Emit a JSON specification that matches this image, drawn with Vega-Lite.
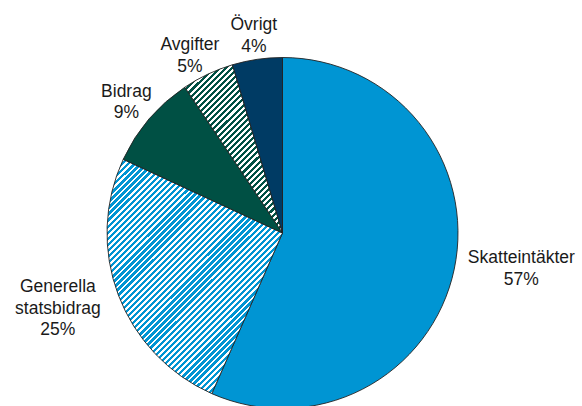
{
  "$schema": "https://vega.github.io/schema/vega-lite/v6.json",
  "autosize": {"type": "none"},
  "width": 351,
  "height": 351,
  "padding": {"left": 107, "top": 57.5, "right": 124, "bottom": 0},
  "background": "#ffffff",
  "config": {"view": {"stroke": null}},
  "data": {"values": [
    {"cat": "Skatteintäkter", "value": 56.6, "ord": 1, "label": "Skatteintäkter\n57%"},
    {"cat": "Generella statsbidrag", "value": 25.3, "ord": 2, "label": "Generella\nstatsbidrag\n25%"},
    {"cat": "Bidrag", "value": 8.7, "ord": 3, "label": "Bidrag\n9%"},
    {"cat": "Avgifter", "value": 4.8, "ord": 4, "label": "Avgifter\n5%"},
    {"cat": "Övrigt", "value": 4.6, "ord": 5, "label": "Övrigt\n4%"}
  ]},
  "encoding": {
    "theta": {"field": "value", "type": "quantitative", "stack": true},
    "order": {"field": "ord", "type": "quantitative"}
  },
  "layer": [
    {
      "mark": {"type": "arc", "stroke": "#222222", "strokeWidth": 0.9},
      "encoding": {
        "fill": {
          "condition": [
            {"test": "datum.cat === 'Generella statsbidrag'", "value": {"gradient": "linear", "x1": 0, "y1": 0, "x2": 0.9934, "y2": 1.329, "stops": [
{"offset":0,"color":"#0095d3"},{"offset":0.0069,"color":"#0095d3"},{"offset":0.0069,"color":"#fff"},{"offset":0.0125,"color":"#fff"},
{"offset":0.0125,"color":"#0095d3"},{"offset":0.0194,"color":"#0095d3"},{"offset":0.0194,"color":"#fff"},{"offset":0.025,"color":"#fff"},
{"offset":0.025,"color":"#0095d3"},{"offset":0.0319,"color":"#0095d3"},{"offset":0.0319,"color":"#fff"},{"offset":0.0375,"color":"#fff"},
{"offset":0.0375,"color":"#0095d3"},{"offset":0.0444,"color":"#0095d3"},{"offset":0.0444,"color":"#fff"},{"offset":0.05,"color":"#fff"},
{"offset":0.05,"color":"#0095d3"},{"offset":0.0569,"color":"#0095d3"},{"offset":0.0569,"color":"#fff"},{"offset":0.0625,"color":"#fff"},
{"offset":0.0625,"color":"#0095d3"},{"offset":0.0694,"color":"#0095d3"},{"offset":0.0694,"color":"#fff"},{"offset":0.075,"color":"#fff"},
{"offset":0.075,"color":"#0095d3"},{"offset":0.0819,"color":"#0095d3"},{"offset":0.0819,"color":"#fff"},{"offset":0.0875,"color":"#fff"},
{"offset":0.0875,"color":"#0095d3"},{"offset":0.0944,"color":"#0095d3"},{"offset":0.0944,"color":"#fff"},{"offset":0.1,"color":"#fff"},
{"offset":0.1,"color":"#0095d3"},{"offset":0.1069,"color":"#0095d3"},{"offset":0.1069,"color":"#fff"},{"offset":0.1125,"color":"#fff"},
{"offset":0.1125,"color":"#0095d3"},{"offset":0.1194,"color":"#0095d3"},{"offset":0.1194,"color":"#fff"},{"offset":0.125,"color":"#fff"},
{"offset":0.125,"color":"#0095d3"},{"offset":0.1319,"color":"#0095d3"},{"offset":0.1319,"color":"#fff"},{"offset":0.1375,"color":"#fff"},
{"offset":0.1375,"color":"#0095d3"},{"offset":0.1444,"color":"#0095d3"},{"offset":0.1444,"color":"#fff"},{"offset":0.15,"color":"#fff"},
{"offset":0.15,"color":"#0095d3"},{"offset":0.1569,"color":"#0095d3"},{"offset":0.1569,"color":"#fff"},{"offset":0.1625,"color":"#fff"},
{"offset":0.1625,"color":"#0095d3"},{"offset":0.1694,"color":"#0095d3"},{"offset":0.1694,"color":"#fff"},{"offset":0.175,"color":"#fff"},
{"offset":0.175,"color":"#0095d3"},{"offset":0.1819,"color":"#0095d3"},{"offset":0.1819,"color":"#fff"},{"offset":0.1875,"color":"#fff"},
{"offset":0.1875,"color":"#0095d3"},{"offset":0.1944,"color":"#0095d3"},{"offset":0.1944,"color":"#fff"},{"offset":0.2,"color":"#fff"},
{"offset":0.2,"color":"#0095d3"},{"offset":0.2069,"color":"#0095d3"},{"offset":0.2069,"color":"#fff"},{"offset":0.2125,"color":"#fff"},
{"offset":0.2125,"color":"#0095d3"},{"offset":0.2194,"color":"#0095d3"},{"offset":0.2194,"color":"#fff"},{"offset":0.225,"color":"#fff"},
{"offset":0.225,"color":"#0095d3"},{"offset":0.2319,"color":"#0095d3"},{"offset":0.2319,"color":"#fff"},{"offset":0.2375,"color":"#fff"},
{"offset":0.2375,"color":"#0095d3"},{"offset":0.2444,"color":"#0095d3"},{"offset":0.2444,"color":"#fff"},{"offset":0.25,"color":"#fff"},
{"offset":0.25,"color":"#0095d3"},{"offset":0.2569,"color":"#0095d3"},{"offset":0.2569,"color":"#fff"},{"offset":0.2625,"color":"#fff"},
{"offset":0.2625,"color":"#0095d3"},{"offset":0.2694,"color":"#0095d3"},{"offset":0.2694,"color":"#fff"},{"offset":0.275,"color":"#fff"},
{"offset":0.275,"color":"#0095d3"},{"offset":0.2819,"color":"#0095d3"},{"offset":0.2819,"color":"#fff"},{"offset":0.2875,"color":"#fff"},
{"offset":0.2875,"color":"#0095d3"},{"offset":0.2944,"color":"#0095d3"},{"offset":0.2944,"color":"#fff"},{"offset":0.3,"color":"#fff"},
{"offset":0.3,"color":"#0095d3"},{"offset":0.3069,"color":"#0095d3"},{"offset":0.3069,"color":"#fff"},{"offset":0.3125,"color":"#fff"},
{"offset":0.3125,"color":"#0095d3"},{"offset":0.3194,"color":"#0095d3"},{"offset":0.3194,"color":"#fff"},{"offset":0.325,"color":"#fff"},
{"offset":0.325,"color":"#0095d3"},{"offset":0.3319,"color":"#0095d3"},{"offset":0.3319,"color":"#fff"},{"offset":0.3375,"color":"#fff"},
{"offset":0.3375,"color":"#0095d3"},{"offset":0.3444,"color":"#0095d3"},{"offset":0.3444,"color":"#fff"},{"offset":0.35,"color":"#fff"},
{"offset":0.35,"color":"#0095d3"},{"offset":0.3569,"color":"#0095d3"},{"offset":0.3569,"color":"#fff"},{"offset":0.3625,"color":"#fff"},
{"offset":0.3625,"color":"#0095d3"},{"offset":0.3694,"color":"#0095d3"},{"offset":0.3694,"color":"#fff"},{"offset":0.375,"color":"#fff"},
{"offset":0.375,"color":"#0095d3"},{"offset":0.3819,"color":"#0095d3"},{"offset":0.3819,"color":"#fff"},{"offset":0.3875,"color":"#fff"},
{"offset":0.3875,"color":"#0095d3"},{"offset":0.3944,"color":"#0095d3"},{"offset":0.3944,"color":"#fff"},{"offset":0.4,"color":"#fff"},
{"offset":0.4,"color":"#0095d3"},{"offset":0.4069,"color":"#0095d3"},{"offset":0.4069,"color":"#fff"},{"offset":0.4125,"color":"#fff"},
{"offset":0.4125,"color":"#0095d3"},{"offset":0.4194,"color":"#0095d3"},{"offset":0.4194,"color":"#fff"},{"offset":0.425,"color":"#fff"},
{"offset":0.425,"color":"#0095d3"},{"offset":0.4319,"color":"#0095d3"},{"offset":0.4319,"color":"#fff"},{"offset":0.4375,"color":"#fff"},
{"offset":0.4375,"color":"#0095d3"},{"offset":0.4444,"color":"#0095d3"},{"offset":0.4444,"color":"#fff"},{"offset":0.45,"color":"#fff"},
{"offset":0.45,"color":"#0095d3"},{"offset":0.4569,"color":"#0095d3"},{"offset":0.4569,"color":"#fff"},{"offset":0.4625,"color":"#fff"},
{"offset":0.4625,"color":"#0095d3"},{"offset":0.4694,"color":"#0095d3"},{"offset":0.4694,"color":"#fff"},{"offset":0.475,"color":"#fff"},
{"offset":0.475,"color":"#0095d3"},{"offset":0.4819,"color":"#0095d3"},{"offset":0.4819,"color":"#fff"},{"offset":0.4875,"color":"#fff"},
{"offset":0.4875,"color":"#0095d3"},{"offset":0.4944,"color":"#0095d3"},{"offset":0.4944,"color":"#fff"},{"offset":0.5,"color":"#fff"},
{"offset":0.5,"color":"#0095d3"},{"offset":0.5069,"color":"#0095d3"},{"offset":0.5069,"color":"#fff"},{"offset":0.5125,"color":"#fff"},
{"offset":0.5125,"color":"#0095d3"},{"offset":0.5194,"color":"#0095d3"},{"offset":0.5194,"color":"#fff"},{"offset":0.525,"color":"#fff"},
{"offset":0.525,"color":"#0095d3"},{"offset":0.5319,"color":"#0095d3"},{"offset":0.5319,"color":"#fff"},{"offset":0.5375,"color":"#fff"},
{"offset":0.5375,"color":"#0095d3"},{"offset":0.5444,"color":"#0095d3"},{"offset":0.5444,"color":"#fff"},{"offset":0.55,"color":"#fff"},
{"offset":0.55,"color":"#0095d3"},{"offset":0.5569,"color":"#0095d3"},{"offset":0.5569,"color":"#fff"},{"offset":0.5625,"color":"#fff"},
{"offset":0.5625,"color":"#0095d3"},{"offset":0.5694,"color":"#0095d3"},{"offset":0.5694,"color":"#fff"},{"offset":0.575,"color":"#fff"},
{"offset":0.575,"color":"#0095d3"},{"offset":0.5819,"color":"#0095d3"},{"offset":0.5819,"color":"#fff"},{"offset":0.5875,"color":"#fff"},
{"offset":0.5875,"color":"#0095d3"},{"offset":0.5944,"color":"#0095d3"},{"offset":0.5944,"color":"#fff"},{"offset":0.6,"color":"#fff"},
{"offset":0.6,"color":"#0095d3"},{"offset":0.6069,"color":"#0095d3"},{"offset":0.6069,"color":"#fff"},{"offset":0.6125,"color":"#fff"},
{"offset":0.6125,"color":"#0095d3"},{"offset":0.6194,"color":"#0095d3"},{"offset":0.6194,"color":"#fff"},{"offset":0.625,"color":"#fff"},
{"offset":0.625,"color":"#0095d3"},{"offset":0.6319,"color":"#0095d3"},{"offset":0.6319,"color":"#fff"},{"offset":0.6375,"color":"#fff"},
{"offset":0.6375,"color":"#0095d3"},{"offset":0.6444,"color":"#0095d3"},{"offset":0.6444,"color":"#fff"},{"offset":0.65,"color":"#fff"},
{"offset":0.65,"color":"#0095d3"},{"offset":0.6569,"color":"#0095d3"},{"offset":0.6569,"color":"#fff"},{"offset":0.6625,"color":"#fff"},
{"offset":0.6625,"color":"#0095d3"},{"offset":0.6694,"color":"#0095d3"},{"offset":0.6694,"color":"#fff"},{"offset":0.675,"color":"#fff"},
{"offset":0.675,"color":"#0095d3"},{"offset":0.6819,"color":"#0095d3"},{"offset":0.6819,"color":"#fff"},{"offset":0.6875,"color":"#fff"},
{"offset":0.6875,"color":"#0095d3"},{"offset":0.6944,"color":"#0095d3"},{"offset":0.6944,"color":"#fff"},{"offset":0.7,"color":"#fff"},
{"offset":0.7,"color":"#0095d3"},{"offset":0.7069,"color":"#0095d3"},{"offset":0.7069,"color":"#fff"},{"offset":0.7125,"color":"#fff"},
{"offset":0.7125,"color":"#0095d3"},{"offset":0.7194,"color":"#0095d3"},{"offset":0.7194,"color":"#fff"},{"offset":0.725,"color":"#fff"},
{"offset":0.725,"color":"#0095d3"},{"offset":0.7319,"color":"#0095d3"},{"offset":0.7319,"color":"#fff"},{"offset":0.7375,"color":"#fff"},
{"offset":0.7375,"color":"#0095d3"},{"offset":0.7444,"color":"#0095d3"},{"offset":0.7444,"color":"#fff"},{"offset":0.75,"color":"#fff"},
{"offset":0.75,"color":"#0095d3"},{"offset":0.7569,"color":"#0095d3"},{"offset":0.7569,"color":"#fff"},{"offset":0.7625,"color":"#fff"},
{"offset":0.7625,"color":"#0095d3"},{"offset":0.7694,"color":"#0095d3"},{"offset":0.7694,"color":"#fff"},{"offset":0.775,"color":"#fff"},
{"offset":0.775,"color":"#0095d3"},{"offset":0.7819,"color":"#0095d3"},{"offset":0.7819,"color":"#fff"},{"offset":0.7875,"color":"#fff"},
{"offset":0.7875,"color":"#0095d3"},{"offset":0.7944,"color":"#0095d3"},{"offset":0.7944,"color":"#fff"},{"offset":0.8,"color":"#fff"},
{"offset":0.8,"color":"#0095d3"},{"offset":0.8069,"color":"#0095d3"},{"offset":0.8069,"color":"#fff"},{"offset":0.8125,"color":"#fff"},
{"offset":0.8125,"color":"#0095d3"},{"offset":0.8194,"color":"#0095d3"},{"offset":0.8194,"color":"#fff"},{"offset":0.825,"color":"#fff"},
{"offset":0.825,"color":"#0095d3"},{"offset":0.8319,"color":"#0095d3"},{"offset":0.8319,"color":"#fff"},{"offset":0.8375,"color":"#fff"},
{"offset":0.8375,"color":"#0095d3"},{"offset":0.8444,"color":"#0095d3"},{"offset":0.8444,"color":"#fff"},{"offset":0.85,"color":"#fff"}
            ]}},
            {"test": "datum.cat === 'Avgifter'", "value": {"gradient": "linear", "x1": 0, "y1": 0, "x2": 1.255, "y2": 2.166, "stops": [
{"offset":0,"color":"#005044"},{"offset":0.00625,"color":"#005044"},{"offset":0.00625,"color":"#fff"},{"offset":0.0125,"color":"#fff"},
{"offset":0.0125,"color":"#005044"},{"offset":0.01875,"color":"#005044"},{"offset":0.01875,"color":"#fff"},{"offset":0.025,"color":"#fff"},
{"offset":0.025,"color":"#005044"},{"offset":0.03125,"color":"#005044"},{"offset":0.03125,"color":"#fff"},{"offset":0.0375,"color":"#fff"},
{"offset":0.0375,"color":"#005044"},{"offset":0.04375,"color":"#005044"},{"offset":0.04375,"color":"#fff"},{"offset":0.05,"color":"#fff"},
{"offset":0.05,"color":"#005044"},{"offset":0.05625,"color":"#005044"},{"offset":0.05625,"color":"#fff"},{"offset":0.0625,"color":"#fff"},
{"offset":0.0625,"color":"#005044"},{"offset":0.06875,"color":"#005044"},{"offset":0.06875,"color":"#fff"},{"offset":0.075,"color":"#fff"},
{"offset":0.075,"color":"#005044"},{"offset":0.08125,"color":"#005044"},{"offset":0.08125,"color":"#fff"},{"offset":0.0875,"color":"#fff"},
{"offset":0.0875,"color":"#005044"},{"offset":0.09375,"color":"#005044"},{"offset":0.09375,"color":"#fff"},{"offset":0.1,"color":"#fff"},
{"offset":0.1,"color":"#005044"},{"offset":0.10625,"color":"#005044"},{"offset":0.10625,"color":"#fff"},{"offset":0.1125,"color":"#fff"},
{"offset":0.1125,"color":"#005044"},{"offset":0.11875,"color":"#005044"},{"offset":0.11875,"color":"#fff"},{"offset":0.125,"color":"#fff"},
{"offset":0.125,"color":"#005044"},{"offset":0.13125,"color":"#005044"},{"offset":0.13125,"color":"#fff"},{"offset":0.1375,"color":"#fff"},
{"offset":0.1375,"color":"#005044"},{"offset":0.14375,"color":"#005044"},{"offset":0.14375,"color":"#fff"},{"offset":0.15,"color":"#fff"},
{"offset":0.15,"color":"#005044"},{"offset":0.15625,"color":"#005044"},{"offset":0.15625,"color":"#fff"},{"offset":0.1625,"color":"#fff"},
{"offset":0.1625,"color":"#005044"},{"offset":0.16875,"color":"#005044"},{"offset":0.16875,"color":"#fff"},{"offset":0.175,"color":"#fff"},
{"offset":0.175,"color":"#005044"},{"offset":0.18125,"color":"#005044"},{"offset":0.18125,"color":"#fff"},{"offset":0.1875,"color":"#fff"},
{"offset":0.1875,"color":"#005044"},{"offset":0.19375,"color":"#005044"},{"offset":0.19375,"color":"#fff"},{"offset":0.2,"color":"#fff"},
{"offset":0.2,"color":"#005044"},{"offset":0.20625,"color":"#005044"},{"offset":0.20625,"color":"#fff"},{"offset":0.2125,"color":"#fff"},
{"offset":0.2125,"color":"#005044"},{"offset":0.21875,"color":"#005044"},{"offset":0.21875,"color":"#fff"},{"offset":0.225,"color":"#fff"},
{"offset":0.225,"color":"#005044"},{"offset":0.23125,"color":"#005044"},{"offset":0.23125,"color":"#fff"},{"offset":0.2375,"color":"#fff"},
{"offset":0.2375,"color":"#005044"},{"offset":0.24375,"color":"#005044"},{"offset":0.24375,"color":"#fff"},{"offset":0.25,"color":"#fff"},
{"offset":0.25,"color":"#005044"},{"offset":0.25625,"color":"#005044"},{"offset":0.25625,"color":"#fff"},{"offset":0.2625,"color":"#fff"},
{"offset":0.2625,"color":"#005044"},{"offset":0.26875,"color":"#005044"},{"offset":0.26875,"color":"#fff"},{"offset":0.275,"color":"#fff"},
{"offset":0.275,"color":"#005044"},{"offset":0.28125,"color":"#005044"},{"offset":0.28125,"color":"#fff"},{"offset":0.2875,"color":"#fff"},
{"offset":0.2875,"color":"#005044"},{"offset":0.29375,"color":"#005044"},{"offset":0.29375,"color":"#fff"},{"offset":0.3,"color":"#fff"},
{"offset":0.3,"color":"#005044"},{"offset":0.30625,"color":"#005044"},{"offset":0.30625,"color":"#fff"},{"offset":0.3125,"color":"#fff"},
{"offset":0.3125,"color":"#005044"},{"offset":0.31875,"color":"#005044"},{"offset":0.31875,"color":"#fff"},{"offset":0.325,"color":"#fff"},
{"offset":0.325,"color":"#005044"},{"offset":0.33125,"color":"#005044"},{"offset":0.33125,"color":"#fff"},{"offset":0.3375,"color":"#fff"},
{"offset":0.3375,"color":"#005044"},{"offset":0.34375,"color":"#005044"},{"offset":0.34375,"color":"#fff"},{"offset":0.35,"color":"#fff"},
{"offset":0.35,"color":"#005044"},{"offset":0.35625,"color":"#005044"},{"offset":0.35625,"color":"#fff"},{"offset":0.3625,"color":"#fff"},
{"offset":0.3625,"color":"#005044"},{"offset":0.36875,"color":"#005044"},{"offset":0.36875,"color":"#fff"},{"offset":0.375,"color":"#fff"},
{"offset":0.375,"color":"#005044"},{"offset":0.38125,"color":"#005044"},{"offset":0.38125,"color":"#fff"},{"offset":0.3875,"color":"#fff"},
{"offset":0.3875,"color":"#005044"},{"offset":0.39375,"color":"#005044"},{"offset":0.39375,"color":"#fff"},{"offset":0.4,"color":"#fff"},
{"offset":0.4,"color":"#005044"},{"offset":0.40625,"color":"#005044"},{"offset":0.40625,"color":"#fff"},{"offset":0.4125,"color":"#fff"},
{"offset":0.4125,"color":"#005044"},{"offset":0.41875,"color":"#005044"},{"offset":0.41875,"color":"#fff"},{"offset":0.425,"color":"#fff"},
{"offset":0.425,"color":"#005044"},{"offset":0.43125,"color":"#005044"},{"offset":0.43125,"color":"#fff"},{"offset":0.4375,"color":"#fff"},
{"offset":0.4375,"color":"#005044"},{"offset":0.44375,"color":"#005044"},{"offset":0.44375,"color":"#fff"},{"offset":0.45,"color":"#fff"},
{"offset":0.45,"color":"#005044"},{"offset":0.45625,"color":"#005044"},{"offset":0.45625,"color":"#fff"},{"offset":0.4625,"color":"#fff"},
{"offset":0.4625,"color":"#005044"},{"offset":0.46875,"color":"#005044"},{"offset":0.46875,"color":"#fff"},{"offset":0.475,"color":"#fff"},
{"offset":0.475,"color":"#005044"},{"offset":0.48125,"color":"#005044"},{"offset":0.48125,"color":"#fff"},{"offset":0.4875,"color":"#fff"},
{"offset":0.4875,"color":"#005044"},{"offset":0.49375,"color":"#005044"},{"offset":0.49375,"color":"#fff"},{"offset":0.5,"color":"#fff"},
{"offset":0.5,"color":"#005044"},{"offset":0.50625,"color":"#005044"},{"offset":0.50625,"color":"#fff"},{"offset":0.5125,"color":"#fff"},
{"offset":0.5125,"color":"#005044"},{"offset":0.51875,"color":"#005044"},{"offset":0.51875,"color":"#fff"},{"offset":0.525,"color":"#fff"},
{"offset":0.525,"color":"#005044"},{"offset":0.53125,"color":"#005044"},{"offset":0.53125,"color":"#fff"},{"offset":0.5375,"color":"#fff"},
{"offset":0.5375,"color":"#005044"},{"offset":0.54375,"color":"#005044"},{"offset":0.54375,"color":"#fff"},{"offset":0.55,"color":"#fff"}
            ]}}
          ],
          "field": "cat",
          "type": "nominal",
          "scale": {
            "domain": ["Skatteintäkter", "Generella statsbidrag", "Bidrag", "Avgifter", "Övrigt"],
            "range": ["#0095d3", "#0095d3", "#005044", "#005044", "#003b64"]
          },
          "legend": null
        }
      }
    },
    {
      "mark": {"type": "text", "radius": 240, "dx": 4, "dy": -24, "font": "Liberation Sans", "fontSize": 17.5, "lineHeight": 21.5, "lineBreak": "\n", "align": "center", "baseline": "middle", "fill": "#1a1a1a"},
      "encoding": {"text": {"condition": {"test": "datum.cat === 'Skatteintäkter'", "field": "label", "type": "nominal"}, "value": ""}}
    },
    {
      "mark": {"type": "text", "radius": 238, "dx": -2, "dy": -30, "font": "Liberation Sans", "fontSize": 17.5, "lineHeight": 21.5, "lineBreak": "\n", "align": "center", "baseline": "middle", "fill": "#1a1a1a"},
      "encoding": {"text": {"condition": {"test": "datum.cat === 'Generella statsbidrag'", "field": "label", "type": "nominal"}, "value": ""}}
    },
    {
      "mark": {"type": "text", "radius": 204, "dx": -1, "dy": -9, "font": "Liberation Sans", "fontSize": 17.5, "lineHeight": 21.5, "lineBreak": "\n", "align": "center", "baseline": "middle", "fill": "#1a1a1a"},
      "encoding": {"text": {"condition": {"test": "datum.cat === 'Bidrag'", "field": "label", "type": "nominal"}, "value": ""}}
    },
    {
      "mark": {"type": "text", "radius": 201, "dx": -7, "dy": -6, "font": "Liberation Sans", "fontSize": 17.5, "lineHeight": 21.5, "lineBreak": "\n", "align": "center", "baseline": "middle", "fill": "#1a1a1a"},
      "encoding": {"text": {"condition": {"test": "datum.cat === 'Avgifter'", "field": "label", "type": "nominal"}, "value": ""}}
    },
    {
      "mark": {"type": "text", "radius": 199, "dx": 0, "dy": -11, "font": "Liberation Sans", "fontSize": 17.5, "lineHeight": 21.5, "lineBreak": "\n", "align": "center", "baseline": "middle", "fill": "#1a1a1a"},
      "encoding": {"text": {"condition": {"test": "datum.cat === 'Övrigt'", "field": "label", "type": "nominal"}, "value": ""}}
    }
  ]
}
